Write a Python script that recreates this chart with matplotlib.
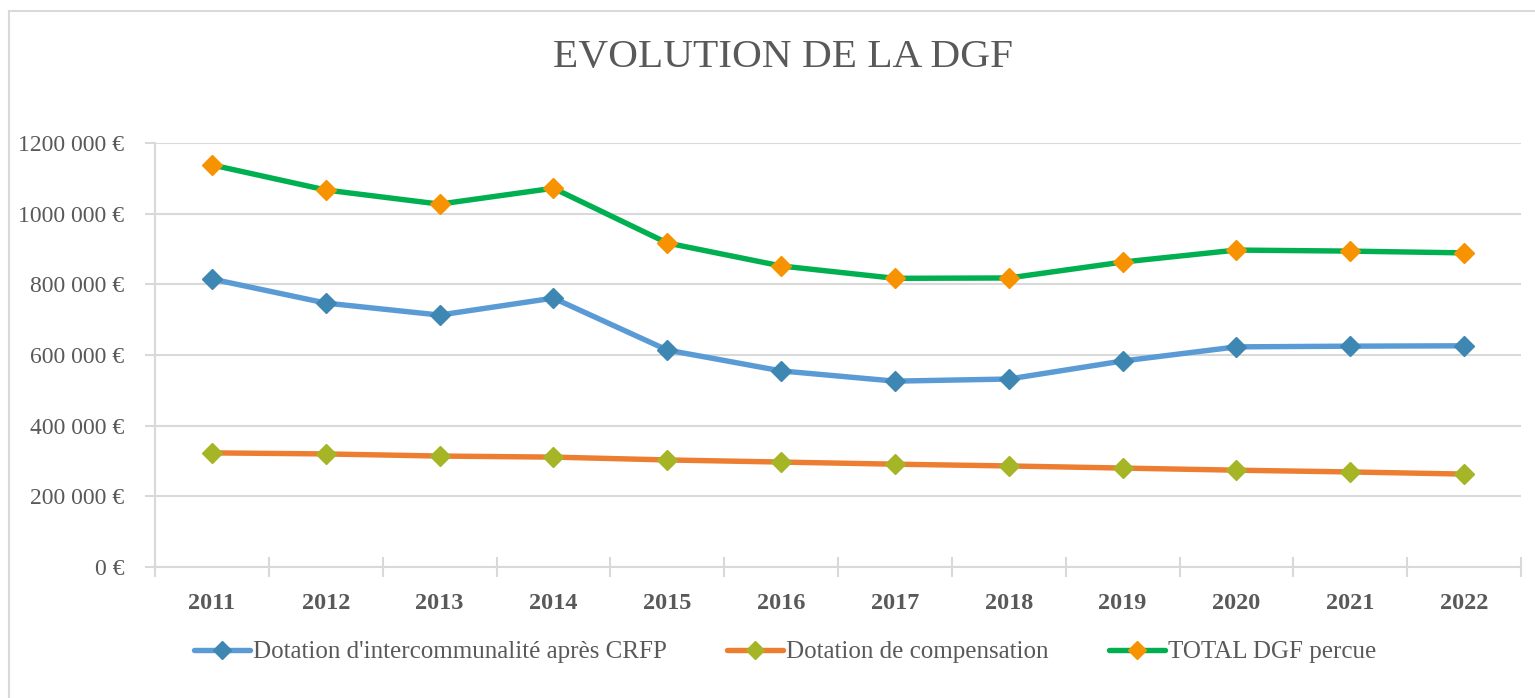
import matplotlib
matplotlib.use("Agg")
import matplotlib.pyplot as plt
from matplotlib.lines import Line2D
from matplotlib.ticker import FuncFormatter, FixedLocator

years = [2011, 2012, 2013, 2014, 2015, 2016, 2017, 2018, 2019, 2020, 2021, 2022]
dotation_interco = [815000, 747000, 713000, 761000, 614000, 555000, 526000, 532000, 583000, 623000, 625000, 626000]
dotation_compensation = [323000, 320000, 314000, 311000, 303000, 297000, 291000, 286000, 280000, 274000, 269000, 263000]
total_dgf = [1138000, 1067000, 1027000, 1072000, 917000, 852000, 817000, 818000, 863000, 897000, 894000, 889000]
series_names = ["Dotation d'intercommunalité après CRFP", "Dotation de compensation", "TOTAL DGF percue"]
title = "EVOLUTION DE LA DGF"

line_colors = ["#5B9BD5", "#ED7D31", "#00B050"]
marker_colors = ["#3F87B3", "#A5B526", "#F79200"]
text_color = "#595959"
grid_color = "#D9D9D9"

plt.rcParams['font.family'] = ['Liberation Serif', 'DejaVu Serif']

fig = plt.figure(figsize=(15.35, 6.98), dpi=100)
ax = fig.add_axes([155/1535, 1 - 567/698, (1521 - 155)/1535, (567 - 143)/698])

for vals, name, lc, mc in zip([dotation_interco, dotation_compensation, total_dgf], series_names, line_colors, marker_colors):
    ax.plot(years, vals, color=lc, lw=3.9, marker='D', ms=10.5, mfc=mc, mec=mc, label=name,
            solid_capstyle='round', zorder=3)

ax.set_xlim(years[0] - 0.5, years[-1] + 0.5)
ax.set_ylim(0, 1200000)
ax.yaxis.set_major_locator(FixedLocator([0, 200000, 400000, 600000, 800000, 1000000, 1200000]))

def fmt(v, pos):
    v = int(round(v))
    if v == 0:
        return "0 €"
    th = v // 1000
    return f"{th} 000 €"

ax.yaxis.set_major_formatter(FuncFormatter(fmt))
ax.set_xticks(years)
ax.set_xticklabels([str(y) for y in years])
ax.set_xticks([y - 0.5 for y in years] + [years[-1] + 0.5], minor=True)

ax.grid(axis='y', color=grid_color, lw=1.5, zorder=0)
for s in ['top', 'right']:
    ax.spines[s].set_visible(False)
for s in ['left', 'bottom']:
    ax.spines[s].set_color(grid_color)
    ax.spines[s].set_linewidth(1.5)

ax.tick_params(axis='x', which='major', length=0, pad=19, labelsize=17.5, labelcolor=text_color)
ax.tick_params(axis='x', which='minor', length=15, direction='inout', color=grid_color, width=1.5)
ax.tick_params(axis='y', which='major', length=7, color=grid_color, width=1.5, pad=15,
               labelsize=17, labelcolor=text_color)
for lab in ax.get_xticklabels():
    lab.set_fontweight('bold')

fig.text(783/1535, 1 - 57/698, title, ha='center', va='center', fontsize=29.7, color=text_color)

leg = fig.legend(loc='center', bbox_to_anchor=(785/1535, 1 - 652/698), ncol=3, frameon=False,
                 fontsize=18, labelcolor=text_color, handlelength=2.24, handletextpad=0.12,
                 columnspacing=2.4, markerscale=0.85)

# chart border (top & left only visible)
fig.add_artist(Line2D([9/1535, 9/1535], [0, 1 - 11/698], transform=fig.transFigure, color=grid_color, lw=1.5))
fig.add_artist(Line2D([9/1535, 1], [1 - 11/698, 1 - 11/698], transform=fig.transFigure, color=grid_color, lw=1.5))

fig.savefig("out.png", dpi=100)
